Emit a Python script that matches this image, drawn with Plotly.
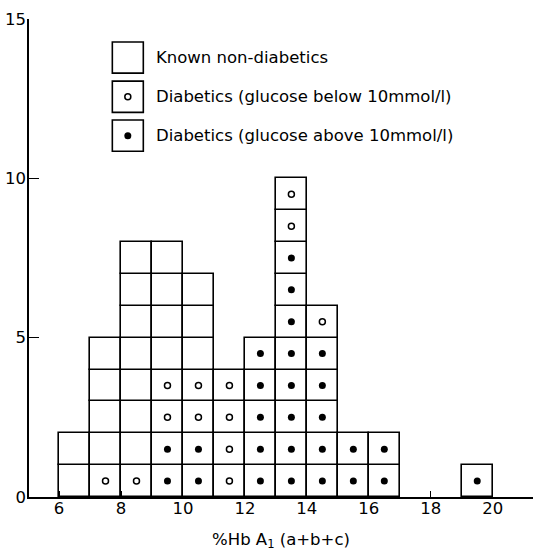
import plotly.graph_objects as go

# Bin lower edges of %HbA1 (a+b+c), one unit wide
bins = [6, 7, 8, 9, 10, 11, 12, 13, 14, 15, 16, 17, 18, 19]
# Counts per bin
diab_high = [0, 0, 0, 2, 2, 0, 5, 8, 5, 2, 2, 0, 0, 1]   # glucose above 10 mmol/l
diab_low = [0, 1, 1, 2, 2, 4, 0, 2, 1, 0, 0, 0, 0, 0]    # glucose below 10 mmol/l
non_diab = [2, 4, 7, 4, 3, 0, 0, 0, 0, 0, 0, 0, 0, 0]    # known non-diabetics

x_ticks = [6, 8, 10, 12, 14, 16, 18, 20]
y_ticks = [0, 5, 10, 15]
legend_labels = ["Known non-diabetics",
                 "Diabetics (glucose below 10mmol/l)",
                 "Diabetics (glucose above 10mmol/l)"]

FONT = "DejaVu Sans"
LW = 1.6

# Build one unit cell per subject, stacked: high, low, non-diabetic
cell_x, cell_base, cell_kind = [], [], []
for b, h, l, n in zip(bins, diab_high, diab_low, non_diab):
    level = 0
    for kind, cnt in (("high", h), ("low", l), ("non", n)):
        for _ in range(cnt):
            cell_x.append(b + 0.5)
            cell_base.append(level)
            cell_kind.append(kind)
            level += 1

fig = go.Figure()
fig.add_trace(go.Bar(
    x=cell_x, y=[1] * len(cell_x), base=cell_base, width=1,
    marker=dict(color="white", line=dict(color="black", width=LW)),
    showlegend=False, hoverinfo="skip"))

hx = [x for x, k in zip(cell_x, cell_kind) if k == "high"]
hy = [b + 0.5 for b, k in zip(cell_base, cell_kind) if k == "high"]
lx = [x for x, k in zip(cell_x, cell_kind) if k == "low"]
ly = [b + 0.5 for b, k in zip(cell_base, cell_kind) if k == "low"]

fig.add_trace(go.Scatter(x=hx, y=hy, mode="markers",
                         marker=dict(symbol="circle", size=7, color="black"),
                         showlegend=False, hoverinfo="skip"))
fig.add_trace(go.Scatter(x=lx, y=ly, mode="markers",
                         marker=dict(symbol="circle", size=6, color="white",
                                     line=dict(color="black", width=1.5)),
                         showlegend=False, hoverinfo="skip"))

# Hand-drawn legend
leg_x0, leg_x1 = 7.72, 8.72
leg_rows = [(13.3, 14.28), (12.07, 13.05), (10.85, 11.83)]
for (y0, y1), label in zip(leg_rows, legend_labels):
    fig.add_shape(type="rect", x0=leg_x0, x1=leg_x1, y0=y0, y1=y1,
                  layer="below",
                  line=dict(color="black", width=LW), fillcolor="white")
    fig.add_annotation(x=9.08, y=(y0 + y1) / 2, text=label, showarrow=False,
                       xanchor="left", yanchor="middle",
                       font=dict(family=FONT, size=16.5, color="black"))
cx = (leg_x0 + leg_x1) / 2
fig.add_trace(go.Scatter(x=[cx], y=[sum(leg_rows[1]) / 2], mode="markers",
                         marker=dict(symbol="circle", size=6, color="white",
                                     line=dict(color="black", width=1.5)),
                         showlegend=False, hoverinfo="skip"))
fig.add_trace(go.Scatter(x=[cx], y=[sum(leg_rows[2]) / 2], mode="markers",
                         marker=dict(symbol="circle", size=7, color="black"),
                         showlegend=False, hoverinfo="skip"))

fig.update_layout(
    width=533, height=551,
    margin=dict(l=29, r=0, t=19, b=54, autoexpand=False),
    plot_bgcolor="white", paper_bgcolor="white",
    barmode="overlay", bargap=0,
    font=dict(family=FONT, size=16, color="black"),
    xaxis=dict(range=[5.03, 21.3], tickvals=x_ticks, ticks="inside",
               ticklen=6, tickwidth=1.2, tickcolor="black",
               showline=True, linecolor="black", linewidth=1.5,
               showgrid=False, zeroline=False, automargin=False,
               tickfont=dict(size=16.5), ticklabelstandoff=-5,
               title=dict(text="%Hb A<sub>1</sub> (a+b+c)", standoff=17,
                          font=dict(size=16.5))),
    yaxis=dict(range=[0, 15], tickvals=y_ticks, ticks="inside",
               ticklen=10, tickwidth=1.2, tickcolor="black",
               showline=True, linecolor="black", linewidth=1.5,
               showgrid=False, zeroline=False, automargin=False,
               tickfont=dict(size=16.5), ticklabelstandoff=-2),
)

# remove the default page margin so the figure sits at the window's corner
fig.write_html("out.html",
               config={"displayModeBar": False},
               post_script="document.body.style.margin='0';"
                           "document.body.style.overflow='hidden';")
